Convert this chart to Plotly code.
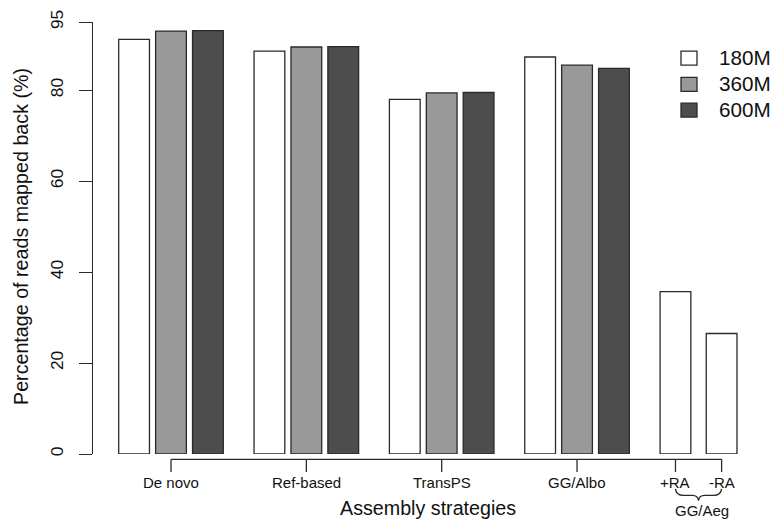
import plotly.graph_objects as go

# ---------------- data ----------------
categories = ["De novo", "Ref-based", "TransPS", "GG/Albo"]
series_names = ["180M", "360M", "600M"]
reads_180M = [91.2, 88.6, 78.0, 87.3]
reads_360M = [93.0, 89.5, 79.4, 85.5]
reads_600M = [93.1, 89.6, 79.5, 84.8]
aeg_labels = ["+RA", "-RA"]
aeg_group = "GG/Aeg"
aeg_180M = [35.7, 26.5]
y_ticks = [0, 20, 40, 60, 80, 95]
x_title = "Assembly strategies"
y_title = "Percentage of reads mapped back (%)"

# ---------------- style / geometry ----------------
fills = ["#ffffff", "#999999", "#4d4d4d"]
edge = "#2a2a2a"
txt = "#111111"
FONT = "Liberation Sans, Arial, Helvetica, sans-serif"

W, H = 774, 520
ml, mr, mt, mb = 93, 10, 20, 66
PW, PH = W - ml - mr, H - mt - mb
unit_px = 30.76                      # one bar width in pixels
x_left = 2.7 - (171 - ml) / unit_px
x_right = x_left + PW / unit_px


def data_x(px):
    return x_left + (px - ml) / unit_px


def paper_x(px):
    return (px - ml) / PW


def paper_y(py):
    return (mt + PH - py) / PH


group_mid = [2.7 + 4.4 * g for g in range(len(categories))]
offsets = [-1.2, 0.0, 1.2]
aeg_pos = [group_mid[-1] + 1.2 + 2.0 + 1.5 * i for i in range(len(aeg_labels))]

fig = go.Figure()
all_series = [reads_180M, reads_360M, reads_600M]
for s, vals in enumerate(all_series):
    fig.add_trace(go.Bar(
        x=[m + offsets[s] for m in group_mid], y=vals, width=1,
        name=series_names[s], showlegend=False,
        marker=dict(color=fills[s], line=dict(color=edge, width=1.3)),
    ))
fig.add_trace(go.Bar(
    x=aeg_pos, y=aeg_180M, width=1, name=series_names[0] + " " + aeg_group,
    showlegend=False,
    marker=dict(color=fills[0], line=dict(color=edge, width=1.3)),
))

shapes = []
annotations = []

# custom x axis (R style)
tick_x = group_mid + aeg_pos
tick_lab = categories + aeg_labels
y_axis_line = paper_y(459.3)
y_tick_end = paper_y(472)
shapes.append(dict(type="line", xref="x", yref="paper", x0=tick_x[0], x1=tick_x[-1],
                   y0=y_axis_line, y1=y_axis_line, line=dict(color=edge, width=1.3)))
for tx, tl in zip(tick_x, tick_lab):
    shapes.append(dict(type="line", xref="x", yref="paper", x0=tx, x1=tx,
                       y0=y_axis_line, y1=y_tick_end, line=dict(color=edge, width=1.3)))
    annotations.append(dict(x=tx, y=paper_y(483), xref="x", yref="paper", text=tl,
                            showarrow=False, xanchor="center", yanchor="middle",
                            font=dict(family=FONT, size=15, color=txt)))

# brace under GG/Aeg
bl, br = 675.5, 721.5
mid = (bl + br) / 2
yt, ym, yp = 489, 495.5, 501
path = (f"M {data_x(bl)},{paper_y(yt)} "
        f"Q {data_x(bl + 0.5)},{paper_y(ym)} {data_x(bl + 8)},{paper_y(ym)} "
        f"L {data_x(mid - 6)},{paper_y(ym)} "
        f"Q {data_x(mid - 0.5)},{paper_y(ym)} {data_x(mid)},{paper_y(yp)} "
        f"Q {data_x(mid + 0.5)},{paper_y(ym)} {data_x(mid + 6)},{paper_y(ym)} "
        f"L {data_x(br - 8)},{paper_y(ym)} "
        f"Q {data_x(br - 0.5)},{paper_y(ym)} {data_x(br)},{paper_y(yt)}")
shapes.append(dict(type="path", xref="x", yref="paper", path=path,
                   line=dict(color=edge, width=1.3)))
annotations.append(dict(x=data_x(702), y=paper_y(510.5), xref="x", yref="paper",
                        text=aeg_group, showarrow=False, xanchor="center", yanchor="middle",
                        font=dict(family=FONT, size=15, color=txt)))

# axis titles
annotations.append(dict(x=paper_x(427.5), y=paper_y(508), xref="paper", yref="paper",
                        text=x_title, showarrow=False, xanchor="center", yanchor="middle",
                        font=dict(family=FONT, size=19.7, color=txt)))
annotations.append(dict(x=paper_x(21), y=paper_y(236), xref="paper", yref="paper",
                        text=y_title, showarrow=False, textangle=-90,
                        xanchor="center", yanchor="middle",
                        font=dict(family=FONT, size=19.7, color=txt)))

# legend (R style boxes)
leg_y = [56.3, 82.7, 108.5]
for s, ly in enumerate(leg_y):
    shapes.append(dict(type="rect", xref="paper", yref="paper",
                       x0=paper_x(681), x1=paper_x(697),
                       y0=paper_y(ly - 7), y1=paper_y(ly + 7),
                       fillcolor=fills[s], line=dict(color=edge, width=1.3)))
    annotations.append(dict(x=paper_x(717), y=paper_y(ly - 0.5), xref="paper", yref="paper",
                            text=series_names[s], showarrow=False,
                            xanchor="left", yanchor="middle",
                            font=dict(family=FONT, size=20.7, color=txt)))

fig.update_layout(
    width=W, height=H,
    margin=dict(l=ml, r=mr, t=mt, b=mb, pad=0),
    paper_bgcolor="white", plot_bgcolor="white",
    barmode="overlay",
    shapes=shapes, annotations=annotations,
    xaxis=dict(range=[x_left, x_right], showgrid=False, zeroline=False,
               showticklabels=False, ticks="", showline=False),
    yaxis=dict(range=[0, 95], tickvals=y_ticks, ticktext=[str(v) for v in y_ticks],
               showgrid=False, zeroline=False, showline=True, linecolor=edge, linewidth=1.3,
               ticks="outside", ticklen=13, tickwidth=1.3, tickcolor=edge,
               tickangle=-90, ticklabelstandoff=9,
               tickfont=dict(family=FONT, size=17.4, color=txt)),
    font=dict(family=FONT, color=txt),
)

fig.write_html(
    "out.html",
    config={"displayModeBar": False},
    post_script="document.body.style.margin='0px';document.body.style.overflow='hidden';",
)
